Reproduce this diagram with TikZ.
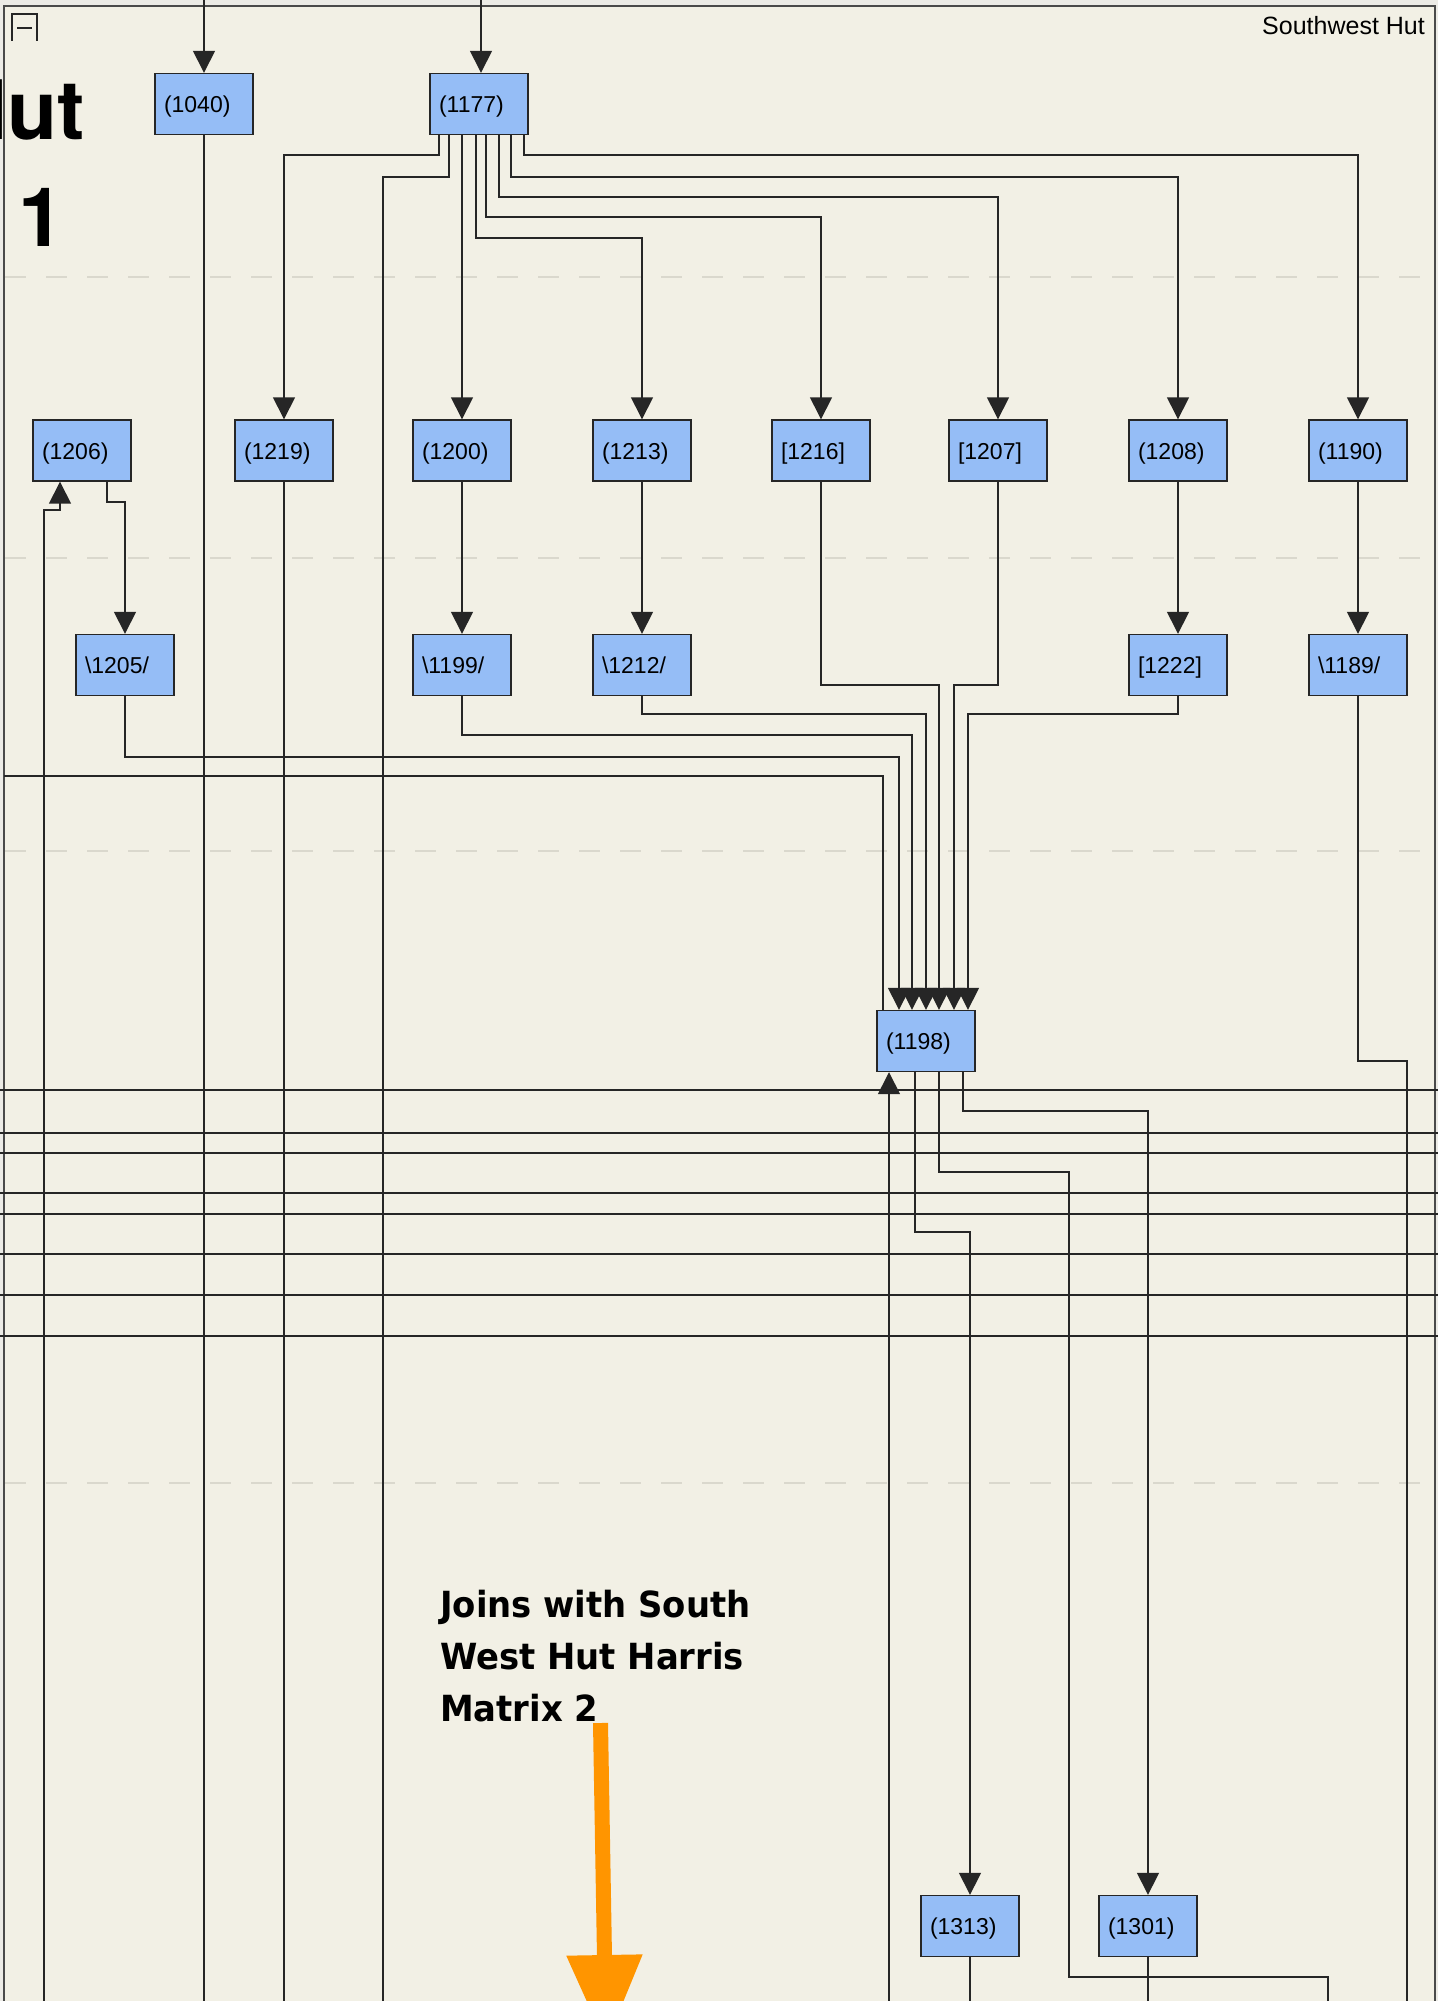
\documentclass[tikz,border=0pt]{standalone}
\usepackage{fontspec}
\setmainfont{Liberation Sans}
\newfontfamily\titlefont{TeX Gyre Heros}
\newfontfamily\notefont{DejaVu Sans}
\usetikzlibrary{arrows.meta,calc}
\definecolor{bgpaper}{HTML}{F2F0E5}
\definecolor{outerbg}{HTML}{ECEBE6}
\definecolor{boxfill}{HTML}{95BDF6}
\definecolor{lineclr}{HTML}{262626}
\definecolor{dashclr}{HTML}{DAD8CD}
\definecolor{orangeclr}{HTML}{FF9500}
\definecolor{frameclr}{HTML}{4A4A4A}
\begin{document}
\begin{tikzpicture}[x=1pt,y=-1pt,
  unit/.style={draw=lineclr, line width=1.4pt, fill=boxfill, minimum width=98pt,
    minimum height=61pt, inner xsep=9pt, inner ysep=0pt, text width=80pt, align=left,
    font=\fontsize{23}{26}\selectfont, text height=17pt, text depth=0pt},
  conn/.style={draw=lineclr, line width=1.5pt},
  arr/.style={conn, -{Triangle[width=22pt,length=22pt]}},
  hline/.style={draw=lineclr, line width=2pt},
  dashline/.style={draw=dashclr, line width=1.8pt, dash pattern=on 21pt off 20pt},
  bigtext/.style={inner sep=0pt, text=black, font=\notefont\bfseries\fontsize{36}{52}\selectfont}
]
\useasboundingbox (0,0) rectangle (1438,2001);
\begin{scope}
\clip (0,0) rectangle (1438,2001);
% background and frame
\fill[outerbg] (0,0) rectangle (1438,2001);
\fill[bgpaper] (4,6) rectangle (1435,2001);
\foreach \yy in {277,558,851,1483} \draw[dashline] (5,\yy) -- (1435,\yy);
\draw[frameclr, line width=2pt] (4,2010) -- (4,6) -- (1435,6) -- (1435,2010);
% collapse icon
\draw[draw=lineclr, line width=1.5pt] (12,41) -- (12,14) -- (37,14) -- (37,41);
\draw[draw=lineclr, line width=1.5pt] (17,28) -- (32,28);
% title fragments (cut off at the left edge, as in the reference)
\node[anchor=base west, inner sep=0pt, font=\titlefont\bfseries\fontsize{82}{90}\selectfont] (ttl1) at (-52,140) {Hut};
\node[anchor=base west, inner sep=0pt, font=\titlefont\bfseries\fontsize{82}{90}\selectfont] (ttl2) at (18,247) {1};
\node[anchor=base east, inner sep=0pt, font=\fontsize{25}{30}\selectfont] (hdr) at (1425,34.5) {Southwest Hut};

% nodes
\node[unit] (n1040) at (204,104) {(1040)};
\node[unit] (n1177) at (479,104) {(1177)};
\node[unit] (n1206) at (82,450.5) {(1206)};
\node[unit] (n1219) at (284,450.5) {(1219)};
\node[unit] (n1200) at (462,450.5) {(1200)};
\node[unit] (n1213) at (642,450.5) {(1213)};
\node[unit] (n1216) at (821,450.5) {{[1216]}};
\node[unit] (n1207) at (998,450.5) {{[1207]}};
\node[unit] (n1208) at (1178,450.5) {(1208)};
\node[unit] (n1190) at (1358,450.5) {(1190)};
\node[unit] (n1205) at (125,665) {\textbackslash 1205/};
\node[unit] (n1199) at (462,665) {\textbackslash 1199/};
\node[unit] (n1212) at (642,665) {\textbackslash 1212/};
\node[unit] (n1222) at (1178,665) {{[1222]}};
\node[unit] (n1189) at (1358,665) {\textbackslash 1189/};
\node[unit] (n1198) at (926,1041) {(1198)};
\node[unit] (n1313) at (970,1926) {(1313)};
\node[unit] (n1301) at (1148,1926) {(1301)};

% free ends
\coordinate (t1040) at (204,0);
\coordinate (b1040) at (204,2001);
\coordinate (t1177) at (481,0);
\coordinate (b383) at (383,2001);
\coordinate (b1219) at (284,2001);
\coordinate (b45) at (44,2001);
\coordinate (b1313) at (970,2001);
\coordinate (b1301) at (1148,2001);
\coordinate (b1328) at (1328,2001);
\coordinate (b1407) at (1407,2001);
\coordinate (lft) at (4,776);
\coordinate (k1) at (1069,1172);
\coordinate (k2) at (1069,1977);
\coordinate (i1206) at ([xshift=-22pt]n1206.south);
\coordinate (e1) at ([xshift=-43pt]n1198.north);
\coordinate (e2) at ([xshift=-27pt]n1198.north);
\coordinate (e3) at ([xshift=-14pt]n1198.north);
\coordinate (e4) at (n1198.north);
\coordinate (e5) at ([xshift=13pt]n1198.north);
\coordinate (e6) at ([xshift=28pt]n1198.north);
\coordinate (e7) at ([xshift=42pt]n1198.north);
\coordinate (x1) at ([xshift=-37pt]n1198.south);
\coordinate (x2) at ([xshift=-11pt]n1198.south);
\coordinate (x3) at ([xshift=13pt]n1198.south);
\coordinate (x4) at ([xshift=37pt]n1198.south);
\coordinate (b889) at (x1 |- 0,2001);

% long horizontal edges
\foreach \yy [count=\i] in {1090,1133,1153,1193,1214,1254,1295,1336} {
  \coordinate (hl\i) at (0,\yy);
  \coordinate (hr\i) at (1438,\yy);
  \draw[hline] (hl\i) -- (hr\i);
}

% top level
\draw[arr] (t1040) -- (n1040.north);
\draw[conn] (n1040.south) -- (b1040);
\draw[arr] (t1177) -- (t1177 |- n1177.north);
\draw[arr] ([xshift=-40pt]n1177.south) |- (n1219.north |- 0,155) -- (n1219.north);
\draw[conn] ([xshift=-30pt]n1177.south) |- (b383 |- 0,177) -- (b383);
\draw[arr] (n1177.south -| n1200.north) -- (n1200.north);
\draw[arr] ([xshift=-3pt]n1177.south) |- (n1213.north |- 0,238) -- (n1213.north);
\draw[arr] ([xshift=7pt]n1177.south) |- (n1216.north |- 0,217) -- (n1216.north);
\draw[arr] ([xshift=20pt]n1177.south) |- (n1207.north |- 0,197) -- (n1207.north);
\draw[arr] ([xshift=32pt]n1177.south) |- (n1208.north |- 0,177) -- (n1208.north);
\draw[arr] ([xshift=45pt]n1177.south) |- (n1190.north |- 0,155) -- (n1190.north);

% second level
\draw[arr] ([xshift=25pt]n1206.south) |- (n1205.north |- 0,502) -- (n1205.north);
\draw[arr] (b45) |- (i1206 |- 0,510) -- (i1206);
\draw[conn] (n1219.south) -- (b1219);
\draw[arr] (n1200.south) -- (n1199.north);
\draw[arr] (n1213.south) -- (n1212.north);
\draw[arr] (n1208.south) -- (n1222.north);
\draw[arr] (n1190.south) -- (n1189.north);

% into 1198
\draw[conn] (e1) |- (lft);
\draw[arr] (n1205.south) |- (e2 |- 0,757) -- (e2);
\draw[arr] (n1199.south) |- (e3 |- 0,735) -- (e3);
\draw[arr] (n1212.south) |- (e4 |- 0,714) -- (e4);
\draw[arr] (n1216.south) |- (e5 |- 0,685) -- (e5);
\draw[arr] (n1207.south) |- (e6 |- 0,685) -- (e6);
\draw[arr] (n1222.south) |- (e7 |- 0,714) -- (e7);

% below 1198
\draw[arr] (b889) -- (x1);
\draw[arr] (x2) |- (n1313.north |- 0,1232) -- (n1313.north);
\draw[conn] (x3) |- (k1) -- (k2) -| (b1328);
\draw[arr] (x4) |- (n1301.north |- 0,1111) -- (n1301.north);
\draw[conn] (n1313.south) -- (b1313);
\draw[conn] (n1301.south) -- (b1301);
\draw[conn] (n1189.south) |- (b1407 |- 0,1061) -- (b1407);

% note and orange arrow
\node[bigtext, anchor=north west, align=left, xscale=0.94, transform shape] (note) at (440,1590) {Joins with South\\West Hut Harris\\Matrix 2};
\coordinate (oa1) at (600.5,1723);
\coordinate (oa2) at (606,2045);
\draw[orangeclr, line width=15pt, -{Triangle[width=72pt,length=90pt]}] (oa1) -- (oa2);
\end{scope}
\end{tikzpicture}
\end{document}
